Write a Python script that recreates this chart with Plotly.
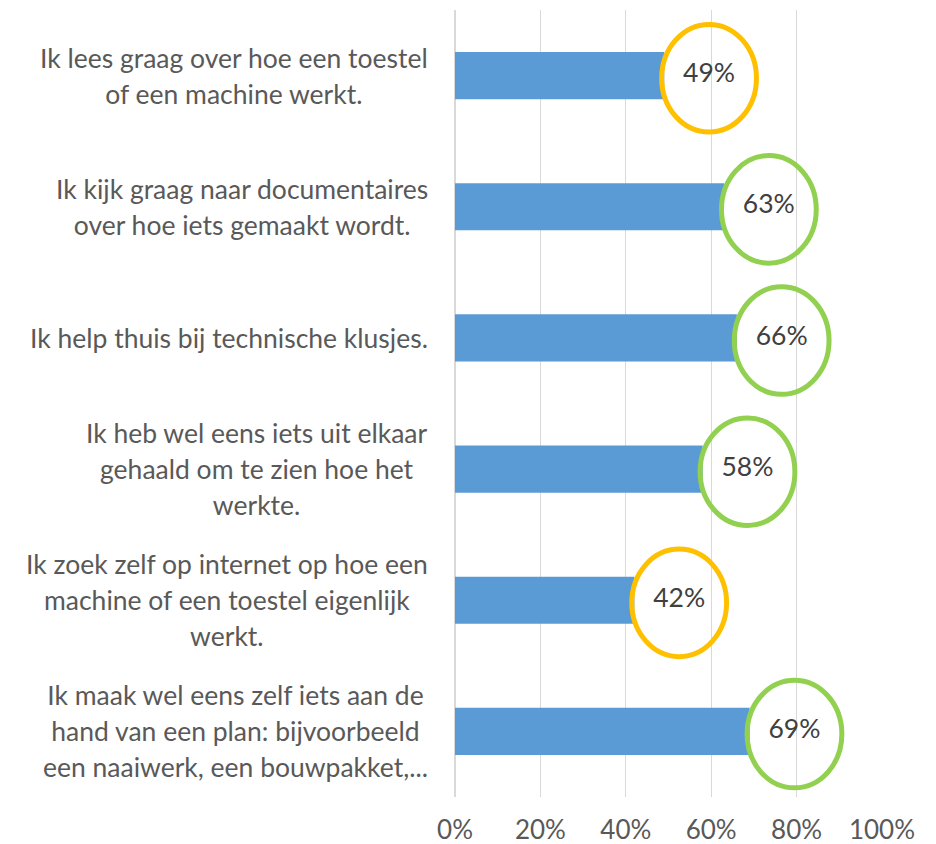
import plotly.graph_objects as go

# ---- data ----
categories = [
    "Ik lees graag over hoe een toestel<br>of een machine werkt.",
    "Ik kijk graag naar documentaires<br>over hoe iets gemaakt wordt.",
    "Ik help thuis bij technische klusjes.",
    "Ik heb wel eens iets uit elkaar<br>gehaald om te zien hoe het<br>werkte.",
    "Ik zoek zelf op internet op hoe een<br>machine of een toestel eigenlijk<br>werkt.",
    "Ik maak wel eens zelf iets aan de<br>hand van een plan: bijvoorbeeld<br>een naaiwerk, een bouwpakket,...",
]
values = [0.49, 0.63, 0.66, 0.58, 0.42, 0.69]
x_ticks = [0, 0.2, 0.4, 0.6, 0.8, 1.0]
x_ticklabels = ["0%", "20%", "40%", "60%", "80%", "100%"]
threshold = 0.5  # below -> orange ring, otherwise green ring

# ---- style ----
FONT = "Lato"
TXT = "#595959"
BAR = "#5B9BD5"
ORANGE = "#FFC000"
GREEN = "#92D050"
FS = 26.5
LABEL_OFF = 0.105
RING_W = 0.111
RING_H = 0.41
RING_DY = 0.02

fig = go.Figure()
fig.add_trace(go.Bar(
    x=values, y=categories, orientation="h",
    marker=dict(color=BAR, line=dict(width=0)),
    hoverinfo="skip", showlegend=False,
))

# value labels inside rings
fig.add_trace(go.Scatter(
    x=[v + LABEL_OFF for v in values], y=categories, mode="text",
    text=[f"{round(v*100)}%" for v in values],
    textfont=dict(family=FONT, size=FS, color="#404040"),
    textposition="middle center", hoverinfo="skip", showlegend=False,
))

shapes = []
for i, v in enumerate(values):
    c = v + LABEL_OFF
    shapes.append(dict(
        type="circle", xref="x", yref="y",
        x0=c - RING_W, x1=c + RING_W,
        y0=i - RING_H + RING_DY, y1=i + RING_H + RING_DY,
        line=dict(color=ORANGE if v < threshold else GREEN, width=5),
        fillcolor="rgba(0,0,0,0)", layer="above",
    ))

annotations = []
for i, cat in enumerate(categories):
    lines = cat.split("<br>")
    txt = "<br>".join(f"<span style='font-size:{FS}px'>{ln}</span>" for ln in lines)
    annotations.append(dict(
        x=-0.058, xref="paper", y=i, yref="y",
        xanchor="right", yanchor="middle", align="center",
        text=txt, showarrow=False,
        font=dict(family=FONT, size=27.5, color=TXT),
    ))

fig.update_layout(
    width=928, height=836,
    margin=dict(l=447, r=54, t=2, b=47),
    paper_bgcolor="white", plot_bgcolor="white",
    bargap=0.64,
    font=dict(family=FONT, size=FS, color=TXT),
    shapes=shapes, annotations=annotations,
    xaxis=dict(
        range=[0, 1], tickvals=x_ticks, ticktext=x_ticklabels,
        showgrid=True, gridcolor="#D9D9D9", gridwidth=1,
        zeroline=True, zerolinecolor="#D9D9D9", zerolinewidth=2,
        showline=False, ticks="outside", ticklen=10, tickcolor="rgba(0,0,0,0)",
        tickfont=dict(family=FONT, size=26, color=TXT), automargin=False,
        fixedrange=True,
    ),
    yaxis=dict(
        type="category", range=[5.5, -0.5], showticklabels=False,
        showgrid=False, zeroline=False, showline=False, automargin=False,
        fixedrange=True,
    ),
)

fig.write_html("out.html")
